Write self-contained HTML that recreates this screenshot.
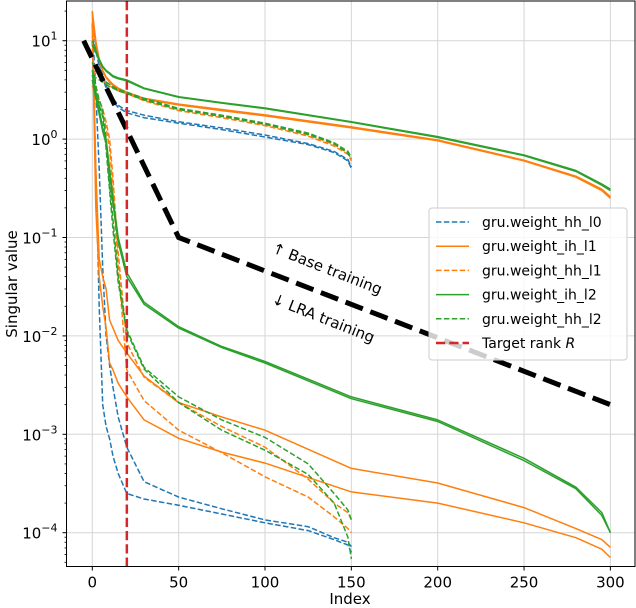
<!DOCTYPE html>
<html><head><meta charset="utf-8">
<style>
html,body{margin:0;padding:0;background:#fff;}
svg{display:block;font-family:"DejaVu Sans","Liberation Sans",sans-serif;}
</style></head>
<body>
<svg id="chart" width="636" height="608" viewBox="0 0 636 608" xmlns="http://www.w3.org/2000/svg">
<g id="grid"></g>
<g id="series"></g>
<g id="axes"></g>
<g id="legend"></g>
</svg>
<script>
const xTicks = [0,50,100,150,200,250,300];
const yDecades = [1,0,-1,-2,-3,-4];
const xs150 = [0,2,4,6,8,10,12,15,20,30,50,75,100,125,140,148,150];
const xs300 = [0,2,4,6,8,10,12,15,20,30,50,75,100,150,200,250,280,295,300];

// base training
const hhL0BaseA = [15,9,6,4.5,3.5,3,2.6,2.2,1.95,1.75,1.5,1.3,1.1,0.9,0.75,0.62,0.52];
const hhL0BaseB = [11,8,5.5,4.2,3.3,2.8,2.4,2.1,1.85,1.65,1.45,1.25,1.05,0.88,0.73,0.6,0.5];
const hhL1BaseA = [6,5,4.5,4.1,3.8,3.6,3.4,3.2,2.95,2.5,2.0,1.7,1.4,1.1,0.88,0.72,0.62];
const hhL1BaseB = [5,4.6,4.3,4.0,3.7,3.5,3.3,3.1,2.9,2.45,1.95,1.65,1.37,1.07,0.85,0.7,0.6];
const hhL2BaseA = [6,5,4.5,4.1,3.8,3.6,3.4,3.2,3.0,2.6,2.05,1.75,1.45,1.15,0.92,0.75,0.65];
const hhL2BaseB = [4.5,4.2,4.0,3.8,3.6,3.4,3.3,3.1,2.9,2.5,2.0,1.7,1.42,1.12,0.9,0.72,0.63];
const ihL1BaseA = [20,10,6.5,5,4.3,3.9,3.6,3.3,3.0,2.6,2.27,2.0,1.76,1.33,0.98,0.61,0.42,0.31,0.26];
const ihL1BaseB = [14,9.5,6.3,4.9,4.2,3.8,3.5,3.2,2.95,2.55,2.22,1.95,1.72,1.3,0.96,0.6,0.41,0.3,0.25];
const ihL2BaseA = [10,8,6.5,5.5,5,4.7,4.4,4.2,4.0,3.3,2.7,2.35,2.07,1.5,1.06,0.69,0.48,0.35,0.31];
const ihL2BaseB = [9,7.6,6.3,5.4,4.9,4.6,4.3,4.1,3.9,3.25,2.66,2.32,2.04,1.48,1.04,0.68,0.47,0.34,0.3];
// LRA training
const ihL2LraA = [5,3,2,1.3,1.0,0.5,0.25,0.1,0.044,0.022,0.0124,0.0078,0.0055,0.0024,0.0014,5.7e-4,2.9e-4,1.6e-4,1.0e-4];
const ihL2LraB = [4,2.6,1.8,1.2,0.9,0.45,0.22,0.09,0.04,0.021,0.012,0.0076,0.0053,0.0023,0.00135,5.4e-4,2.8e-4,1.5e-4,1.0e-4];
const ihL1LraA = [20,0.5,0.06,0.04,0.03,0.0145,0.012,0.009,0.0067,0.0039,0.0021,0.0015,0.0011,4.5e-4,3.2e-4,1.8e-4,1.1e-4,8.5e-5,7.1e-5];
const ihL1LraB = [14,0.2,0.04,0.02,0.012,0.0053,0.0045,0.0033,0.0024,0.0014,9.1e-4,6.6e-4,5.1e-4,2.6e-4,2.0e-4,1.26e-4,8.9e-5,6.8e-5,5.6e-5];
const hhL1LraA = [4,3,2.5,2,1.5,1.0,0.4,0.07,0.0085,0.0038,0.0021,0.0012,7.4e-4,3.5e-4,2.0e-4,1.6e-4,1.35e-4];
const hhL1LraB = [3.5,2.8,2.3,1.8,1.3,0.8,0.3,0.05,0.0045,0.0022,0.0011,6.5e-4,3.7e-4,2.3e-4,1.45e-4,1.1e-4,1.0e-4];
const hhL2LraA = [5,3.5,2.5,2,1.0,0.35,0.15,0.04,0.0115,0.0048,0.0024,0.0014,9.3e-4,5e-4,2.5e-4,1.7e-4,1.35e-4];
const hhL2LraB = [4.5,3,2.2,1.7,0.8,0.3,0.12,0.035,0.011,0.0046,0.0021,0.0011,6.9e-4,3.9e-4,2.0e-4,9e-5,5.4e-5];
const hhL0LraA = [10,0.5,0.02,0.002,0.0012,9e-4,6e-4,4e-4,2.5e-4,2.2e-4,1.9e-4,1.55e-4,1.26e-4,1.05e-4,8.5e-5,7.5e-5,6.3e-5];
const hhL0LraB = [15,3,0.5,0.05,0.01,0.005,0.003,0.0015,7.4e-4,3.3e-4,2.3e-4,1.75e-4,1.35e-4,1.15e-4,8.9e-5,8.0e-5,7.2e-5];
// guide line & target rank
const guideX = [-5,50,300];
const guideY = [10,0.1,0.002];
const targetRank = 20;
const legendLabels = ["gru.weight_hh_l0","gru.weight_ih_l1","gru.weight_hh_l1","gru.weight_ih_l2","gru.weight_hh_l2","Target rank "];

const NS="http://www.w3.org/2000/svg";
const L=66.5,R=635,T=1,B=566.5;
const X0=92.3, XS=1.727;
const Y0=139.1, YD=98.4;
function xs(v){return X0+v*XS;}
function ys(v){return Y0-Math.log10(v)*YD;}
function mk(tag,attrs,parent){const e=document.createElementNS(NS,tag);for(const k in attrs)e.setAttribute(k,attrs[k]);parent.appendChild(e);return e;}
const grid=document.getElementById('grid'),series=document.getElementById('series'),axes=document.getElementById('axes'),legend=document.getElementById('legend');

// grid
xTicks.forEach(t=>{const l=mk('line',{x1:xs(t),x2:xs(t),y1:T,y2:B,stroke:'#d6d6d6','stroke-width':1},grid);

});
yDecades.forEach(d=>{const l=mk('line',{x1:L,x2:R,y1:ys(Math.pow(10,d)),y2:ys(Math.pow(10,d)),stroke:'#d6d6d6','stroke-width':1},grid);

});

const BLUE='#1f77b4',ORANGE='#ff7f0e',GREEN='#2ca02c';
const curves=[
 [xs150,hhL0BaseA,BLUE,true,'hh-l0-base-a'],[xs150,hhL0BaseB,BLUE,true,'hh-l0-base-b'],
 [xs150,hhL0LraA,BLUE,true,'hh-l0-lra-a'],[xs150,hhL0LraB,BLUE,true,'hh-l0-lra-b'],
 [xs300,ihL1BaseA,ORANGE,false,'ih-l1-base-a'],[xs300,ihL1BaseB,ORANGE,false,'ih-l1-base-b'],
 [xs300,ihL1LraA,ORANGE,false,'ih-l1-lra-a'],[xs300,ihL1LraB,ORANGE,false,'ih-l1-lra-b'],
 [xs150,hhL1BaseA,ORANGE,true,'hh-l1-base-a'],[xs150,hhL1BaseB,ORANGE,true,'hh-l1-base-b'],
 [xs150,hhL1LraA,ORANGE,true,'hh-l1-lra-a'],[xs150,hhL1LraB,ORANGE,true,'hh-l1-lra-b'],
 [xs300,ihL2BaseA,GREEN,false,'ih-l2-base-a'],[xs300,ihL2BaseB,GREEN,false,'ih-l2-base-b'],
 [xs300,ihL2LraA,GREEN,false,'ih-l2-lra-a'],[xs300,ihL2LraB,GREEN,false,'ih-l2-lra-b'],
 [xs150,hhL2BaseA,GREEN,true,'hh-l2-base-a'],[xs150,hhL2BaseB,GREEN,true,'hh-l2-base-b'],
 [xs150,hhL2LraA,GREEN,true,'hh-l2-lra-a'],[xs150,hhL2LraB,GREEN,true,'hh-l2-lra-b']
];
curves.forEach(c=>{
 const pts=c[0].map((x,i)=>xs(x).toFixed(1)+','+ys(c[1][i]).toFixed(1)).join(' ');
 const p=mk('polyline',{points:pts,fill:'none',stroke:c[2],'stroke-width':1.5,'stroke-linejoin':'round'},series);
 if(c[3])p.setAttribute('stroke-dasharray','5.5,2.4');
 
 
});
// guide line
const gp=mk('polyline',{points:guideX.map((x,i)=>xs(x)+','+ys(guideY[i])).join(' '),fill:'none',stroke:'#000','stroke-width':5,'stroke-dasharray':'18.5,8'},series);


// target rank
const tr=mk('line',{x1:xs(targetRank),x2:xs(targetRank),y1:T,y2:B,stroke:'#d62728','stroke-width':2.5,'stroke-dasharray':'9.25,4'},series);


// annotations
const a1=mk('text',{x:0,y:0,'font-size':15,fill:'#000',transform:'translate(271,252) rotate(21.5)'},series);
a1.textContent='↑ Base training';


const a2=mk('text',{x:0,y:0,'font-size':15,fill:'#000',transform:'translate(271,303) rotate(21.5)'},series);
a2.textContent='↓ LRA training';



// axes frame
const fr=mk('rect',{x:L,y:T,width:R-L,height:B-T,fill:'none',stroke:'#000','stroke-width':1},axes);


xTicks.forEach(t=>{
 mk('line',{x1:xs(t),x2:xs(t),y1:B,y2:B+4,stroke:'#000','stroke-width':1},axes);
 const tx=mk('text',{x:xs(t),y:B+21,'font-size':15,'text-anchor':'middle',fill:'#000'},axes);
 tx.textContent=t;
 
 
});
yDecades.forEach(d=>{
 const y=ys(Math.pow(10,d));
 mk('line',{x1:L-4,x2:L,y1:y,y2:y,stroke:'#000','stroke-width':1},axes);
 const tx=mk('text',{x:L-9,y:y+6,'font-size':15,'text-anchor':'end',fill:'#000'},axes);
 const sup=d<0?'\u2212'+(-d):String(d);
 tx.innerHTML='10<tspan dy="-7" font-size="11">'+sup+'</tspan>';
 
 
});
for(let d=-5;d<=1;d++){for(let m=2;m<=9;m++){const v=m*Math.pow(10,d);const y=ys(v);if(y>T&&y<B)mk('line',{x1:L-2,x2:L,y1:y,y2:y,stroke:'#000','stroke-width':0.8},axes);}}
const xl=mk('text',{x:350,y:604,'font-size':15,'text-anchor':'middle',fill:'#000'},axes);
xl.textContent='Index';


const yl=mk('text',{x:0,y:0,'font-size':15,'text-anchor':'middle',fill:'#000',transform:'translate(17,284) rotate(-90)'},axes);
yl.textContent='Singular value';



// legend
const lb=mk('rect',{x:429,y:208,width:198,height:152,rx:3,fill:'rgba(255,255,255,0.8)',stroke:'#cccccc','stroke-width':1},legend);


const lstyle=[[BLUE,true,1.5],[ORANGE,false,1.5],[ORANGE,true,1.5],[GREEN,false,1.5],[GREEN,true,1.5],['#d62728',true,2.5]];
legendLabels.forEach((lab,i)=>{
 const y=222+i*24.2;
 const g=mk('g',{},legend);
 
 
 const ln=mk('line',{x1:436,x2:469,y1:y,y2:y,stroke:lstyle[i][0],'stroke-width':lstyle[i][2]},g);
 if(lstyle[i][1])ln.setAttribute('stroke-dasharray',i==5?'9.25,4':'5.5,2.4');
 const t=mk('text',{x:482,y:y+5,'font-size':14,fill:'#000'},g);
 t.textContent=lab;
 if(i==5){const s=mk('tspan',{'font-style':'italic'},t);s.textContent='R';}
});
</script>
</body></html>
